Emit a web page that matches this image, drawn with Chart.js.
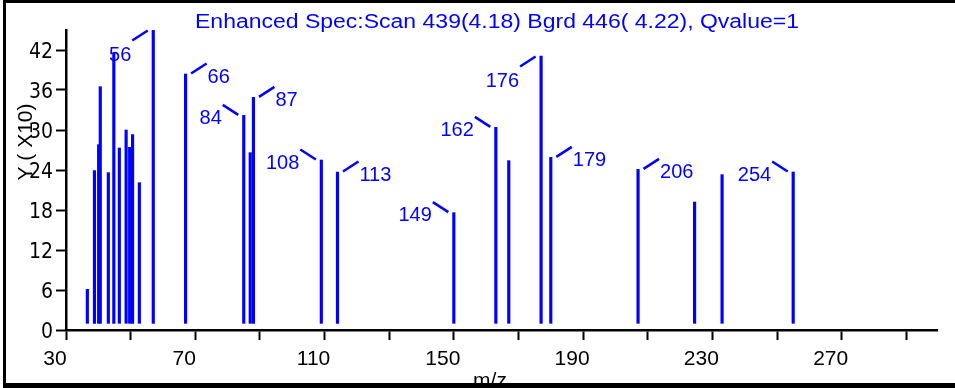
<!DOCTYPE html>
<html>
<head>
<meta charset="utf-8">
<script src="https://cdn.jsdelivr.net/npm/chart.js@4.4.0/dist/chart.umd.min.js"></script>
<style>
  html, body { margin: 0; padding: 0; background: #fff; }
  #wrap { width: 955px; height: 388px; }
</style>
</head>
<body>
<div id="wrap"><canvas id="spec" width="955" height="388"></canvas></div>
<script>
// Peak positions (m/z) and abundances (Y x10)
const mz = [35.6, 37.8, 39.1, 39.6, 42.1, 43.8, 45.5, 47.6, 48.7, 49.6, 51.7, 56, 66,
  84, 86, 87, 108, 113, 149, 162, 166, 176, 179, 206, 223.5, 232, 254];
const abundance = [6.1, 23.9, 27.8, 36.5, 23.6, 41.5, 27.3, 30.0, 27.4, 29.3, 22.1, 45.0, 38.4,
  32.2, 26.6, 34.9, 25.5, 23.7, 17.6, 30.4, 25.4, 41.1, 25.9, 24.1, 19.2, 23.3, 23.7];
// peaks that carry an m/z label
const labelledPeaks = [56, 66, 84, 87, 108, 113, 149, 162, 176, 179, 206, 254];

// axes
const yTicks = [0, 6, 12, 18, 24, 30, 36, 42];
const xTicks = [30, 50, 70, 90, 110, 130, 150, 170, 190, 210, 230, 250, 270, 290];
const xTickLabels = [30, 70, 110, 150, 190, 230, 270];
const baseline = 1;   // sticks start a little above zero

const titleText = 'Enhanced Spec:Scan 439(4.18) Bgrd 446( 4.22), Qvalue=1';
const BLUE = '#0000ff';
// the printed axis sits about one unit right of the peak masses
const AXIS_SHIFT = 1;

// label side: R = up-right, L = up-left, LD = down-left
const labelSide = { 56: 'LD', 66: 'R', 84: 'L', 87: 'R', 108: 'L', 113: 'R', 149: 'L',
  162: 'L', 176: 'LD', 179: 'R', 206: 'R', 254: 'L' };

const SANS = '"Liberation Sans", Arial, sans-serif';
const NARROW = '"Liberation Sans Narrow", "Arial Narrow", "DejaVu Sans Condensed", sans-serif';

const decor = {
  id: 'decor',
  afterDatasetsDraw(chart) {
    const ctx = chart.ctx;
    const meta = chart.getDatasetMeta(0);
    ctx.save();
    ctx.strokeStyle = BLUE;
    ctx.fillStyle = BLUE;
    ctx.lineWidth = 2.5;
    ctx.font = '20px ' + SANS;
    ctx.textBaseline = 'alphabetic';
    labelledPeaks.forEach(m => {
      const bar = meta.data[mz.indexOf(m)];
      const x = bar.x, y = bar.y;
      const side = labelSide[m];
      let x0, y0, x1, y1, tx, ty;
      if (side === 'R') {
        x0 = x + 5.5; y0 = y - 0.5; x1 = x + 21; y1 = y - 10.5; tx = x + 22; ty = y + 1.5;
        ctx.textAlign = 'left';
      } else if (side === 'L') {
        x0 = x - 5.5; y0 = y - 0.5; x1 = x - 21; y1 = y - 10.5; tx = x - 22; ty = y + 1.5;
        ctx.textAlign = 'right';
      } else {
        x0 = x - 5.5; y0 = y + 0.5; x1 = x - 21; y1 = y + 10.5; tx = x - 22; ty = y + 24;
        ctx.textAlign = 'right';
      }
      ctx.beginPath();
      ctx.moveTo(x0, y0);
      ctx.lineTo(x1, y1);
      ctx.stroke();
      ctx.fillText(String(m), tx, ty + 7);
    });
    ctx.restore();
  },
  afterDraw(chart) {
    const ctx = chart.ctx;
    ctx.save();
    // title, stretched to the width it has in the original
    ctx.fillStyle = BLUE;
    ctx.font = '20px ' + SANS;
    ctx.textAlign = 'center';
    ctx.textBaseline = 'alphabetic';
    const w = ctx.measureText(titleText).width;
    ctx.translate(497, 28);
    ctx.scale(604 / w, 1);
    ctx.fillText(titleText, 0, 0);
    ctx.restore();

    ctx.save();
    ctx.fillStyle = '#000';
    ctx.font = '21px ' + SANS;
    ctx.textAlign = 'center';
    ctx.textBaseline = 'alphabetic';
    ctx.fillText('m/z', 490, 387);
    ctx.translate(31.5, 142);
    ctx.rotate(-Math.PI / 2);
    ctx.fillText('Y ( X10)', 0, 0);
    ctx.restore();

    // frame
    ctx.save();
    ctx.fillStyle = '#000';
    ctx.fillRect(3, 0, 952, 3);
    ctx.fillRect(3, 0, 3, 388);
    ctx.fillRect(3, 383, 952, 5);
    ctx.restore();
  }
};

const axisGrid = { drawOnChartArea: false, drawTicks: true, tickLength: 10, tickWidth: 2, tickColor: '#000', offset: false };
const axisBorder = { display: true, color: '#000', width: 2.5 };

new Chart(document.getElementById('spec'), {
  type: 'bar',
  data: {
    datasets: [{
      data: mz.map((m, i) => ({ x: m, y: [baseline, abundance[i]] })),
      backgroundColor: BLUE,
      borderWidth: 0,
      barThickness: 2.5,
      grouped: false
    }]
  },
  options: {
    responsive: false,
    animation: false,
    devicePixelRatio: 1,
    layout: { padding: { top: 30, right: 18, left: 0, bottom: 0 } },
    plugins: {
      legend: { display: false },
      tooltip: { enabled: false },
      title: { display: false }
    },
    scales: {
      x: {
        type: 'linear',
        offset: false,
        min: 30 - AXIS_SHIFT,
        max: 299.5 - AXIS_SHIFT,
        afterFit: s => { s.height = 58; },
        afterBuildTicks: s => { s.ticks = xTicks.map(v => ({ value: v - AXIS_SHIFT })); },
        ticks: {
          autoSkip: false,
          maxRotation: 0,
          color: '#000',
          font: { family: SANS, size: 21 },
          padding: 7,
          labelOffset: -11,
          callback: v => {
            const l = Math.round(v + AXIS_SHIFT);
            return xTickLabels.includes(l) ? String(l) : '';
          }
        },
        grid: axisGrid,
        border: axisBorder
      },
      y: {
        min: 0,
        max: 45,
        afterFit: s => { s.width = 66; },
        afterBuildTicks: s => { s.ticks = yTicks.map(v => ({ value: v })); },
        ticks: {
          color: '#000',
          font: { family: NARROW, size: 21 },
          padding: 3,
          labelOffset: 3
        },
        grid: axisGrid,
        border: axisBorder
      }
    }
  },
  plugins: [decor]
});
</script>
</body>
</html>
